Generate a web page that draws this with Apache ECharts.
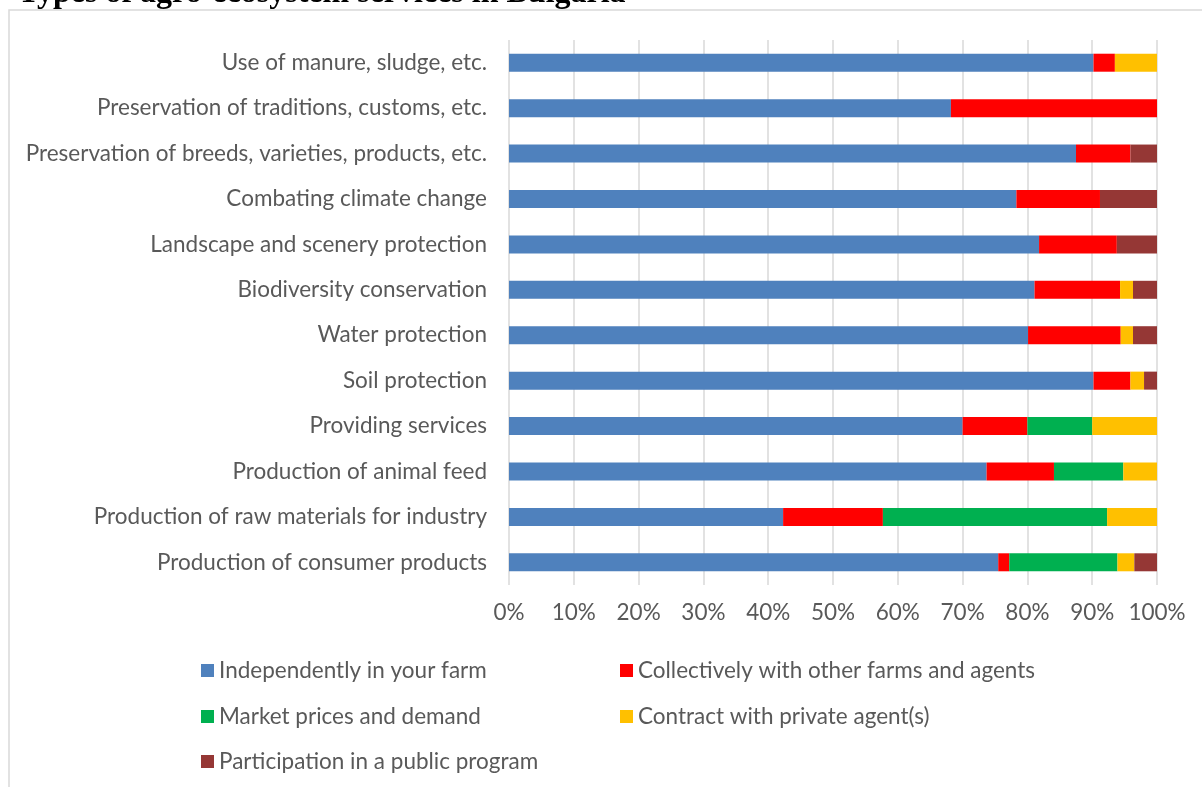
<!DOCTYPE html>
<html>
<head>
<meta charset="utf-8">
<script src="https://cdn.jsdelivr.net/npm/echarts@6/dist/echarts.min.js"></script>
<style>
  html, body { margin: 0; padding: 0; background: #fff; }
  #chart { width: 1202px; height: 787px; }
</style>
</head>
<body>
<div id="chart"></div>
<script>
// categories, top to bottom
const categories = [
  'Use of manure, sludge, etc.',
  'Preservation of traditions, customs, etc.',
  'Preservation of breeds, varieties, products, etc.',
  'Combating climate change',
  'Landscape and scenery protection',
  'Biodiversity conservation',
  'Water protection',
  'Soil protection',
  'Providing services',
  'Production of animal feed',
  'Production of raw materials for industry',
  'Production of consumer products'
];

// shares in %, same order as categories
const independently = [90.2, 68.2, 87.5, 78.3, 81.8, 81.1, 80.1, 90.2, 70.0, 73.7, 42.3, 75.5];
const collectively  = [3.3, 31.8, 8.4, 12.9, 12.0, 13.2, 14.3, 5.7, 10.0, 10.4, 15.4, 1.7];
const marketPrices  = [0, 0, 0, 0, 0, 0, 0, 0, 10.0, 10.7, 34.6, 16.7];
const contract      = [6.5, 0, 0, 0, 0, 2.0, 1.9, 2.1, 10.0, 5.2, 7.7, 2.6];
const publicProgram = [0, 0, 4.1, 8.8, 6.2, 3.7, 3.7, 2.0, 0, 0, 0, 3.5];

const seriesNames = [
  'Independently in your farm',
  'Collectively with other farms and agents',
  'Market prices and demand',
  'Contract with private agent(s)',
  'Participation in a public program'
];
const seriesColors = ['#4F81BD', '#FF0000', '#00B050', '#FFC000', '#953735'];
const seriesData = [independently, collectively, marketPrices, contract, publicProgram];

const fontName = 'Lato';
const fontSize = 22.5;
const textColor = '#595959';

const chart = echarts.init(document.getElementById('chart'));

const series = seriesData.map((values, i) => ({
  name: seriesNames[i],
  type: 'bar',
  stack: 'total',
  barWidth: 18,
  itemStyle: { color: seriesColors[i] },
  data: values
}));

// legend placed item by item, two columns
const legendPos = [
  { left: 201, top: 659 },
  { left: 620, top: 659 },
  { left: 201, top: 705 },
  { left: 620, top: 705 },
  { left: 201, top: 750 }
];
const legends = seriesNames.map((name, i) => ({
  data: [name],
  left: legendPos[i].left,
  top: legendPos[i].top,
  padding: 0,
  icon: 'rect',
  itemWidth: 13,
  itemHeight: 13,
  textStyle: { color: textColor, fontFamily: fontName, fontSize: fontSize }
}));

chart.setOption({
  animation: false,
  grid: { left: 509, right: 45, top: 40, bottom: 202, containLabel: false },
  legend: legends,
  xAxis: {
    type: 'value',
    min: 0,
    max: 100,
    interval: 10,
    axisLine: { show: false },
    axisTick: { show: false },
    splitLine: { show: true, lineStyle: { color: '#D9D9D9', width: 1.5 } },
    axisLabel: {
      formatter: '{value}%',
      color: textColor,
      fontFamily: fontName,
      fontSize: fontSize,
      margin: 16
    }
  },
  yAxis: {
    type: 'category',
    inverse: true,
    data: categories,
    axisLine: { show: false },
    axisTick: { show: false },
    axisLabel: {
      color: textColor,
      fontFamily: fontName,
      fontSize: fontSize,
      margin: 22
    }
  },
  graphic: [
    {
      type: 'rect',
      silent: true,
      shape: { x: 9, y: 10, width: 1300, height: 900 },
      style: { fill: 'none', stroke: '#D9D9D9', lineWidth: 1.5 }
    },
    {
      type: 'text',
      silent: true,
      left: 18,
      top: -22,
      style: {
        text: 'Types of agro-ecosystem services in Bulgaria',
        fill: '#000',
        font: 'bold 32px "Liberation Serif", "Times New Roman", serif'
      }
    }
  ],
  series: series
});
</script>
</body>
</html>
